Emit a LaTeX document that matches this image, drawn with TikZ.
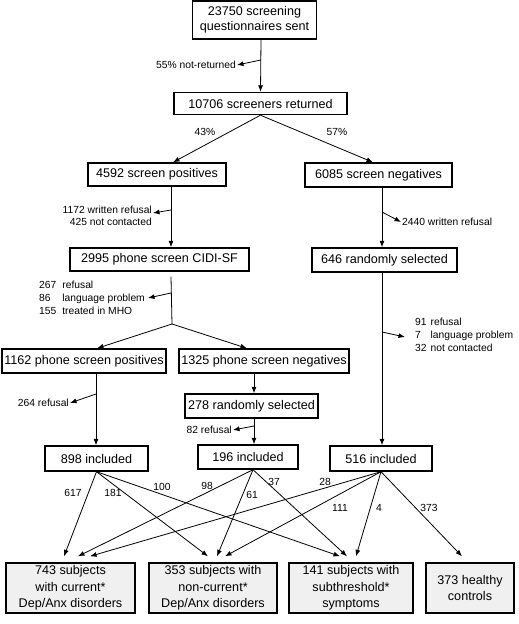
\documentclass[tikz,border=0pt]{standalone}
\usepackage{fontspec}
\setmainfont{Liberation Sans}
\usetikzlibrary{arrows.meta}
\tikzset{stage/.style={draw, line width=1.4pt, inner xsep=1pt, inner ysep=2pt,
   font=\fontsize{12.6}{15}\selectfont, align=center},
 outcome/.style={stage, fill=gray!12, minimum height=50pt,
   font=\fontsize{12.6}{16.5}\selectfont},
 note/.style={font=\fontsize{10.3}{13}\selectfont, inner sep=1pt},
 flow/.style={line width=0.8pt, -{Latex[length=6.5pt,width=5pt]}},
 link/.style={line width=0.8pt},
 }

\begin{document}
\begin{tikzpicture}[x=1pt,y=-1pt]
        \useasboundingbox (0,0) rectangle (519,624);
        \node[stage, minimum width=124pt, minimum height=38pt] (sent) at (254.5,20) {23750 screening\\questionnaires sent};
        \node[stage, minimum width=173pt, minimum height=22pt] (returned) at (260.5,103.5) {10706 screeners returned};
        \node[stage, minimum width=138pt, minimum height=23pt] (scrpos) at (157,174.5) {4592 screen positives};
        \node[stage, minimum width=147pt, minimum height=24pt] (scrneg) at (378.5,175) {6085 screen negatives};
        \node[stage, minimum width=179pt, minimum height=23pt] (cidi) at (159.5,259.5) {2995 phone screen CIDI-SF};
        \node[stage, minimum width=145pt, minimum height=24pt] (randsel) at (384.5,260) {646 randomly selected};
        \node[stage, minimum width=164pt, minimum height=24pt] (phonepos) at (84,361) {1162 phone screen positives};
        \node[stage, minimum width=170pt, minimum height=24pt] (phoneneg) at (264,361) {1325 phone screen negatives};
        \node[stage, minimum width=133pt, minimum height=24pt] (rand278) at (251.5,406) {278 randomly selected};
        \node[stage, minimum width=103pt, minimum height=25pt] (incl898) at (96.5,458.5) {898 included};
        \node[stage, minimum width=100pt, minimum height=24pt] (incl196) at (248,457) {196 included};
        \node[stage, minimum width=102pt, minimum height=25pt] (incl516) at (381,458.5) {516 included};

        \node[outcome, minimum width=129pt] (current) at (70.5,588) {743 subjects\\with current*\\Dep/Anx disorders};
        \node[outcome, minimum width=128pt] (noncurrent) at (213,588) {353 subjects with\\non-current*\\Dep/Anx disorders};
        \node[outcome, minimum width=124pt] (subthr) at (351,588) {141 subjects with\\subthreshold*\\symptoms};
        \node[outcome, minimum width=88pt] (healthy) at (470,588) {373 healthy\\controls};

        % losses on the way
        \node[note, anchor=east] (notret) at (237,65) {55\% not-returned};
        \node[note, anchor=east, align=right, font=\fontsize{10.3}{12.5}\selectfont] (refpos) at (153,216) {1172 written refusal\\425 not contacted};
        \node[note, anchor=west] (refneg) at (401,222) {2440 written refusal};
        \node[note, anchor=north west] (lostcidi) at (38,278) {\begin{tabular}{@{}l@{\hspace{6pt}}l@{}}267&refusal\\86&language problem\\155&treated in MHO\end{tabular}};
        \node[note, anchor=north west] (lostrand) at (414,315) {\begin{tabular}{@{}l@{\hspace{4pt}}l@{}}91&refusal\\7&language problem\\32&not contacted\end{tabular}};
        \node[note, anchor=east] (ref264) at (70,403) {264 refusal};
        \node[note, anchor=east] (ref82) at (233,430) {82 refusal};

        \coordinate (k1) at (261,60);
        \coordinate (k2) at (171,210);
        \coordinate (k3) at (382,212);
        \coordinate (k4) at (171,293);
        \coordinate (split) at (172,324);
        \coordinate (k5) at (382,332);
        \coordinate (k6) at (96,394);
        \coordinate (k7) at (254,426);

        \draw[flow] ([xshift=6.5pt]sent.south) -- (returned.north);
        \draw[flow] (k1) -- (notret.east);
        \draw[flow] (returned.south) -- ([xshift=16pt]scrpos.north);
        \draw[flow] (returned.south) -- ([xshift=-5.5pt]scrneg.north);
        \node[note] (p43) at (205,132) {43\%};
        \node[note] (p57) at (337,132) {57\%};

        \draw[flow] ([xshift=14pt]scrpos.south) -- ([xshift=14pt]scrpos.south |- cidi.north);
        \draw[flow] (k2) -- ([yshift=3pt]refpos.east);
        \draw[flow] ([xshift=3.5pt]scrneg.south) -- ([xshift=3.5pt]scrneg.south |- randsel.north);
        \draw[flow] (k3) -- (refneg.west);

        \draw[link] ([xshift=11.5pt,yshift=-5pt]cidi.south) -- (split);
        \draw[flow] (k4) -- (148,298);
        \draw[flow] (split) -- ([xshift=13pt]phonepos.north);
        \draw[flow] (split) -- ([xshift=-17pt]phoneneg.north);
        \draw[flow] ([xshift=-2.5pt]randsel.south) -- ([xshift=-2.5pt]randsel.south |- incl516.north);
        \draw[flow] (k5) -- (405,337);

        \draw[flow] ([xshift=12pt]phonepos.south) -- ([xshift=12pt]phonepos.south |- incl898.north);
        \draw[flow] (k6) -- (ref264.east);
        \draw[flow] ([xshift=-10pt]phoneneg.south) -- ([xshift=-10pt]phoneneg.south |- rand278.north);
        \draw[flow] ([xshift=2.5pt]rand278.south) -- ([xshift=2.5pt]rand278.south |- incl196.north);
        \draw[flow] (k7) -- (ref82.east);

        % split of the included
        \draw[flow] (incl898.south) -- ([xshift=-6.5pt,yshift=6pt]current.north);
        \draw[flow] (incl898.south) -- ([xshift=-5pt,yshift=6pt]noncurrent.north);
        \draw[flow] (incl898.south) -- ([xshift=-11pt,yshift=6pt]subthr.north);
        \draw[flow] ([xshift=5pt]incl196.south) -- ([xshift=7.5pt,yshift=6pt]current.north);
        \draw[flow] ([xshift=5pt]incl196.south) -- ([xshift=4pt,yshift=6pt]noncurrent.north);
        \draw[flow] ([xshift=5pt]incl196.south) -- ([xshift=-4pt,yshift=6pt]subthr.north);
        \draw[flow] (incl516.south) -- ([xshift=19.5pt,yshift=6pt]current.north);
        \draw[flow] (incl516.south) -- ([xshift=12pt,yshift=6pt]noncurrent.north);
        \draw[flow] (incl516.south) -- ([xshift=5pt,yshift=6pt]subthr.north);
        \draw[flow] (incl516.south) -- ([xshift=-8pt,yshift=6pt]healthy.north);
        \node[note] (n617) at (73,493) {617};
        \node[note] (n181) at (113,493) {181};
        \node[note] (n100) at (162,487) {100};
        \node[note] (n98) at (207,486) {98};
        \node[note] (n61) at (252,495) {61};
        \node[note] (n37) at (274,482) {37};
        \node[note] (n28) at (325,482) {28};
        \node[note] (n111) at (340,508) {111};
        \node[note] (n4) at (379,508) {4};
        \node[note] (n373) at (429,508) {373};
    \end{tikzpicture}
\end{document}
